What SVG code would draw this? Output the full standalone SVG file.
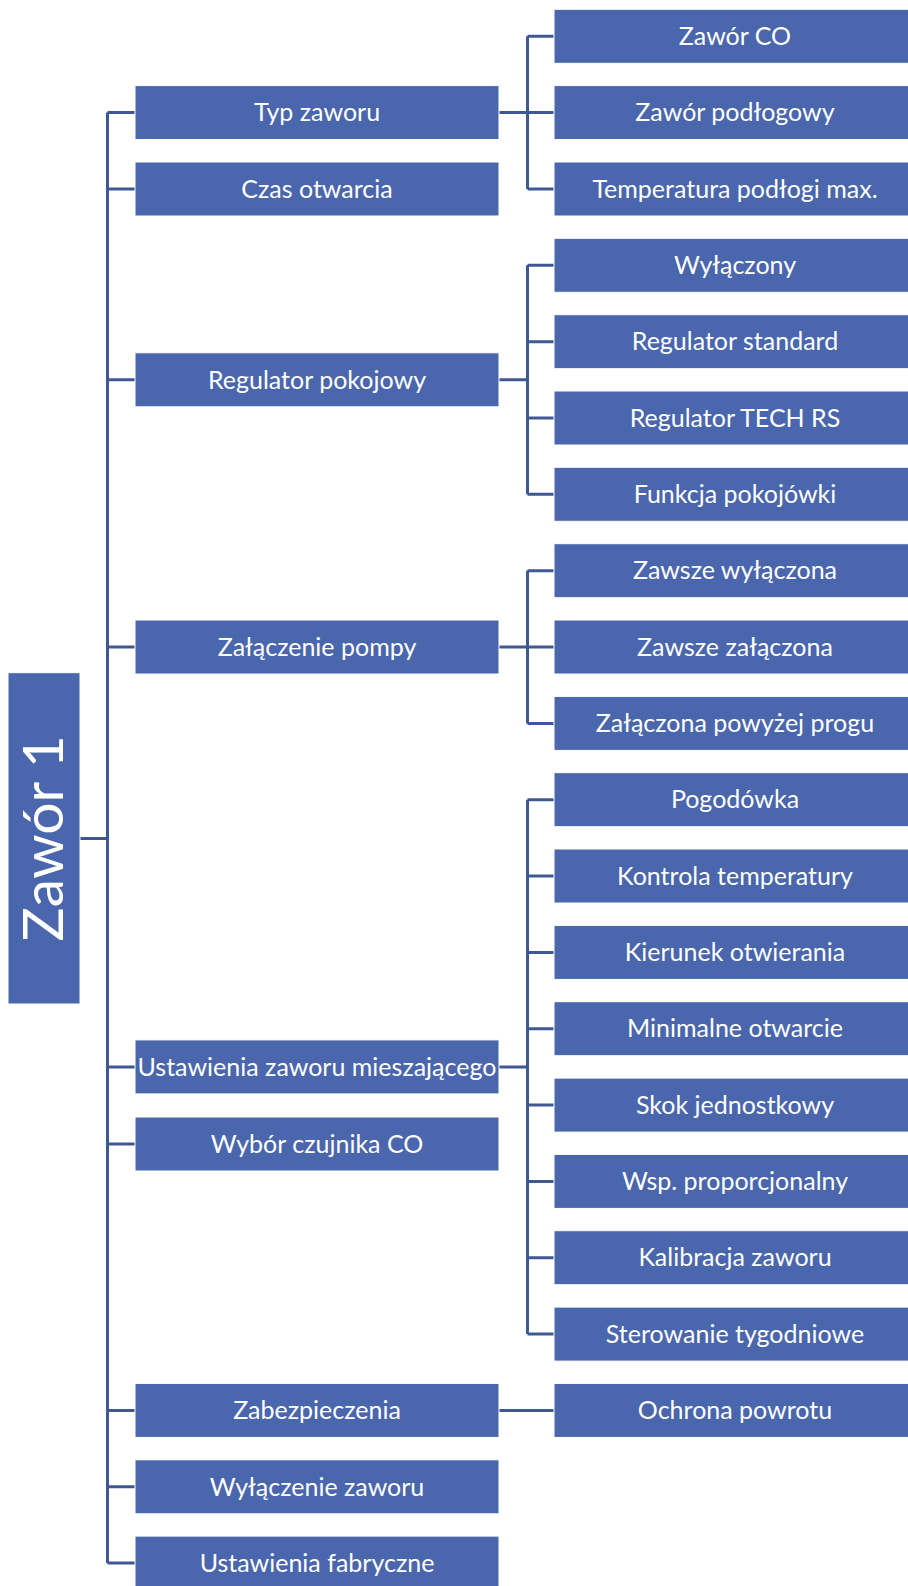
<svg xmlns="http://www.w3.org/2000/svg" width="908" height="1586" viewBox="0 0 908 1586">
<style>
.box{fill:#4A66AC;stroke:#ffffff;stroke-width:1}
.t{fill:#ffffff;font-family:Lato,"Liberation Sans",sans-serif;font-size:25px;text-anchor:middle}
.rt{fill:#ffffff;font-family:Lato,"Liberation Sans",sans-serif;font-size:57px;text-anchor:middle}
.c{stroke:#3F5893;stroke-width:3;fill:none}
</style>
<rect width="908" height="1586" fill="#ffffff"/>
<g id="connectors" class="c">
<path d="M80,838.5H107.5M107.5,112.6V1563.1"/>
<path d="M107.5,112.6H135M107.5,189H135M107.5,379.8H135M107.5,647H135M107.5,1066.9H135M107.5,1144H135M107.5,1410.4H135M107.5,1486.8H135M107.5,1563.1H135"/>
<path d="M499,112.6H527.5M527.5,36.3V189M527.5,36.3H554M527.5,112.6H554M527.5,189H554"/>
<path d="M499,379.8H527.5M527.5,265.3V494.3M527.5,265.3H554M527.5,341.7H554M527.5,418H554M527.5,494.3H554"/>
<path d="M499,647H527.5M527.5,570.7V723.4M527.5,570.7H554M527.5,647H554M527.5,723.4H554"/>
<path d="M499,1066.9H527.5M527.5,799.7V1334.1M527.5,799.7H554M527.5,876H554M527.5,952.4H554M527.5,1028.7H554M527.5,1105.1H554M527.5,1181.4H554M527.5,1257.7H554M527.5,1334.1H554"/>
<path d="M499,1410.4H554"/>
</g>
<g id="root"><rect class="box" x="8" y="672.7" width="72" height="331.3"/><text class="rt" transform="translate(44,838.3) rotate(-90)" x="0" y="19">Zawór 1</text></g>
<g id="typ-zaworu"><rect class="box" x="135" y="85.6" width="364" height="54"/><text class="t" x="317" y="121.3">Typ zaworu</text></g>
<g id="czas-otwarcia"><rect class="box" x="135" y="162" width="364" height="54"/><text class="t" x="317" y="197.7">Czas otwarcia</text></g>
<g id="regulator-pokojowy"><rect class="box" x="135" y="352.8" width="364" height="54"/><text class="t" x="317" y="388.5">Regulator pokojowy</text></g>
<g id="zalaczenie-pompy"><rect class="box" x="135" y="620" width="364" height="54"/><text class="t" x="317" y="655.7">Załączenie pompy</text></g>
<g id="ustawienia-zaworu"><rect class="box" x="135" y="1039.9" width="364" height="54"/><text class="t" x="317" y="1075.6">Ustawienia zaworu mieszającego</text></g>
<g id="wybor-czujnika"><rect class="box" x="135" y="1117" width="364" height="54"/><text class="t" x="317" y="1152.7">Wybór czujnika CO</text></g>
<g id="zabezpieczenia"><rect class="box" x="135" y="1383.4" width="364" height="54"/><text class="t" x="317" y="1419.1">Zabezpieczenia</text></g>
<g id="wylaczenie-zaworu"><rect class="box" x="135" y="1459.8" width="364" height="54"/><text class="t" x="317" y="1495.5">Wyłączenie zaworu</text></g>
<g id="ustawienia-fabryczne"><rect class="box" x="135" y="1536.1" width="364" height="54"/><text class="t" x="317" y="1571.8">Ustawienia fabryczne</text></g>
<g id="zawor-co"><rect class="box" x="554" y="9.3" width="362" height="54"/><text class="t" x="735" y="45">Zawór CO</text></g>
<g id="zawor-podlogowy"><rect class="box" x="554" y="85.6" width="362" height="54"/><text class="t" x="735" y="121.3">Zawór podłogowy</text></g>
<g id="temperatura-podlogi"><rect class="box" x="554" y="162" width="362" height="54"/><text class="t" x="735" y="197.7">Temperatura podłogi max.</text></g>
<g id="wylaczony"><rect class="box" x="554" y="238.3" width="362" height="54"/><text class="t" x="735" y="274">Wyłączony</text></g>
<g id="regulator-standard"><rect class="box" x="554" y="314.7" width="362" height="54"/><text class="t" x="735" y="350.4">Regulator standard</text></g>
<g id="regulator-tech"><rect class="box" x="554" y="391" width="362" height="54"/><text class="t" x="735" y="426.7">Regulator TECH RS</text></g>
<g id="funkcja-pokojowki"><rect class="box" x="554" y="467.3" width="362" height="54"/><text class="t" x="735" y="503">Funkcja pokojówki</text></g>
<g id="zawsze-wylaczona"><rect class="box" x="554" y="543.7" width="362" height="54"/><text class="t" x="735" y="579.4">Zawsze wyłączona</text></g>
<g id="zawsze-zalaczona"><rect class="box" x="554" y="620" width="362" height="54"/><text class="t" x="735" y="655.7">Zawsze załączona</text></g>
<g id="zalaczona-powyzej"><rect class="box" x="554" y="696.4" width="362" height="54"/><text class="t" x="735" y="732.1">Załączona powyżej progu</text></g>
<g id="pogodowka"><rect class="box" x="554" y="772.7" width="362" height="54"/><text class="t" x="735" y="808.4">Pogodówka</text></g>
<g id="kontrola-temperatury"><rect class="box" x="554" y="849" width="362" height="54"/><text class="t" x="735" y="884.7">Kontrola temperatury</text></g>
<g id="kierunek-otwierania"><rect class="box" x="554" y="925.4" width="362" height="54"/><text class="t" x="735" y="961.1">Kierunek otwierania</text></g>
<g id="minimalne-otwarcie"><rect class="box" x="554" y="1001.7" width="362" height="54"/><text class="t" x="735" y="1037.4">Minimalne otwarcie</text></g>
<g id="skok-jednostkowy"><rect class="box" x="554" y="1078.1" width="362" height="54"/><text class="t" x="735" y="1113.8">Skok jednostkowy</text></g>
<g id="wsp-proporcjonalny"><rect class="box" x="554" y="1154.4" width="362" height="54"/><text class="t" x="735" y="1190.1">Wsp. proporcjonalny</text></g>
<g id="kalibracja-zaworu"><rect class="box" x="554" y="1230.7" width="362" height="54"/><text class="t" x="735" y="1266.4">Kalibracja zaworu</text></g>
<g id="sterowanie-tygodniowe"><rect class="box" x="554" y="1307.1" width="362" height="54"/><text class="t" x="735" y="1342.8">Sterowanie tygodniowe</text></g>
<g id="ochrona-powrotu"><rect class="box" x="554" y="1383.4" width="362" height="54"/><text class="t" x="735" y="1419.1">Ochrona powrotu</text></g>
</svg>
